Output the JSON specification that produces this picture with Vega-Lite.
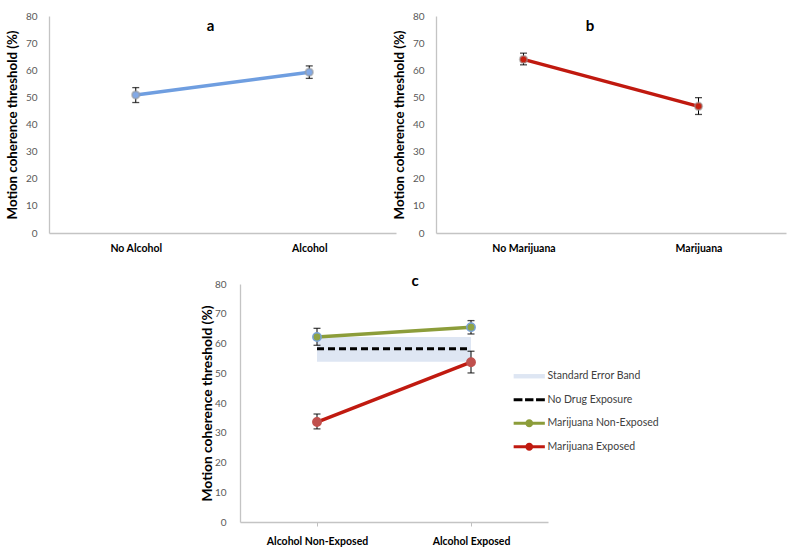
{
  "$schema": "https://vega.github.io/schema/vega-lite/v6.json",
  "autosize": {"type": "none"},
  "padding": {"left": 49, "top": 16, "right": 738, "bottom": 537},
  "background": "white",
  "bounds": "full",
  "spacing": 20,
  "datasets": {
    "alcohol": [
      {"condition": "No Alcohol", "mean": 50.9, "lo": 48.1, "hi": 53.6},
      {"condition": "Alcohol", "mean": 59.3, "lo": 57.0, "hi": 61.6}
    ],
    "marijuana": [
      {"condition": "No Marijuana", "mean": 64.0, "lo": 62.0, "hi": 66.3},
      {"condition": "Marijuana", "mean": 46.7, "lo": 43.7, "hi": 49.9}
    ],
    "combined": [
      {"condition": "Alcohol Non-Exposed", "series": "Standard Error Band", "mean": 58.2, "lo": 53.9, "hi": 62.2},
      {"condition": "Alcohol Exposed", "series": "Standard Error Band", "mean": 58.2, "lo": 53.9, "hi": 62.2},
      {"condition": "Alcohol Non-Exposed", "series": "No Drug Exposure", "mean": 58.2, "lo": null, "hi": null},
      {"condition": "Alcohol Exposed", "series": "No Drug Exposure", "mean": 58.2, "lo": null, "hi": null},
      {"condition": "Alcohol Non-Exposed", "series": "Marijuana Non-Exposed", "mean": 62.2, "lo": 59.4, "hi": 65.1},
      {"condition": "Alcohol Exposed", "series": "Marijuana Non-Exposed", "mean": 65.5, "lo": 63.2, "hi": 67.7},
      {"condition": "Alcohol Non-Exposed", "series": "Marijuana Exposed", "mean": 33.6, "lo": 31.3, "hi": 36.3},
      {"condition": "Alcohol Exposed", "series": "Marijuana Exposed", "mean": 53.7, "lo": 50.1, "hi": 57.4}
    ]
  },
  "vconcat": [
    {
      "bounds": "flush",
      "spacing": 40,
      "hconcat": [
        {
          "width": 347, "height": 217,
          "data": {"name": "alcohol"},
          "title": {"text": "a", "frame": "group", "offset": -35, "dx": -12, "fontSize": 15, "fontWeight": "bold", "baseline": "alphabetic"},
          "encoding": {
            "x": {"field": "condition", "type": "nominal", "sort": null, "scale": {"type": "point", "padding": 0.5}, "title": null, "axis": {"ticks": false}}
          },
          "layer": [
            {"mark": {"type": "line", "color": "#6f9ee0", "strokeWidth": 3.5},
             "encoding": {"y": {"field": "mean", "type": "quantitative", "scale": {"domain": [0, 80], "nice": false}, "title": "Motion coherence threshold (%)"}}},
            {"mark": {"type": "rule", "color": "#000000", "strokeWidth": 1},
             "encoding": {"y": {"field": "lo", "type": "quantitative", "scale": {"domain": [0, 80], "nice": false}, "title": "Motion coherence threshold (%)"}, "y2": {"field": "hi"}}},
            {"mark": {"type": "tick", "color": "#000000", "size": 7, "thickness": 1.3},
             "encoding": {"y": {"field": "lo", "type": "quantitative", "scale": {"domain": [0, 80], "nice": false}, "title": "Motion coherence threshold (%)"}}},
            {"mark": {"type": "tick", "color": "#000000", "size": 7, "thickness": 1.3},
             "encoding": {"y": {"field": "hi", "type": "quantitative", "scale": {"domain": [0, 80], "nice": false}, "title": "Motion coherence threshold (%)"}}},
            {"mark": {"type": "circle", "size": 55, "fill": "#82a9e6", "opacity": 1, "stroke": "#9a9a9a", "strokeWidth": 2, "strokeOpacity": 0.55},
             "encoding": {"y": {"field": "mean", "type": "quantitative", "scale": {"domain": [0, 80], "nice": false}, "title": "Motion coherence threshold (%)"}}}
          ]
        },
        {
          "width": 350, "height": 217,
          "data": {"name": "marijuana"},
          "title": {"text": "b", "frame": "group", "offset": -35, "dx": -21, "fontSize": 15, "fontWeight": "bold", "baseline": "alphabetic"},
          "encoding": {
            "x": {"field": "condition", "type": "nominal", "sort": null, "scale": {"type": "point", "padding": 0.5}, "title": null, "axis": {"ticks": false}}
          },
          "layer": [
            {"mark": {"type": "line", "color": "#c0190f", "strokeWidth": 3.5},
             "encoding": {"y": {"field": "mean", "type": "quantitative", "scale": {"domain": [0, 80], "nice": false}, "title": "Motion coherence threshold (%)"}}},
            {"mark": {"type": "rule", "color": "#000000", "strokeWidth": 1},
             "encoding": {"y": {"field": "lo", "type": "quantitative", "scale": {"domain": [0, 80], "nice": false}, "title": "Motion coherence threshold (%)"}, "y2": {"field": "hi"}}},
            {"mark": {"type": "tick", "color": "#000000", "size": 7, "thickness": 1.3},
             "encoding": {"y": {"field": "lo", "type": "quantitative", "scale": {"domain": [0, 80], "nice": false}, "title": "Motion coherence threshold (%)"}}},
            {"mark": {"type": "tick", "color": "#000000", "size": 7, "thickness": 1.3},
             "encoding": {"y": {"field": "hi", "type": "quantitative", "scale": {"domain": [0, 80], "nice": false}, "title": "Motion coherence threshold (%)"}}},
            {"mark": {"type": "circle", "size": 55, "fill": "#c8200f", "opacity": 1, "stroke": "#9a9a9a", "strokeWidth": 2, "strokeOpacity": 0.55},
             "encoding": {"y": {"field": "mean", "type": "quantitative", "scale": {"domain": [0, 80], "nice": false}, "title": "Motion coherence threshold (%)"}}}
          ]
        }
      ]
    },
    {
      "bounds": "flush",
      "spacing": 10,
      "hconcat": [
        {
          "width": 181, "height": 238,
          "data": {"values": [{}]},
          "mark": {"type": "text", "text": ""}
        },
        {
          "width": 308, "height": 238,
          "data": {"name": "combined"},
          "title": {"text": "c", "frame": "group", "offset": -22, "dx": 21, "fontSize": 15, "fontWeight": "bold", "baseline": "alphabetic"},
          "encoding": {
            "x": {"field": "condition", "type": "nominal", "sort": null, "scale": {"type": "point", "padding": 0.5}, "title": null, "axis": {"ticks": true, "tickColor": "#bfbfbf", "tickSize": 4}}
          },
          "layer": [
            {
              "transform": [{"filter": "datum.series === 'legend only'"}],
              "mark": {"type": "point", "filled": true, "opacity": 1},
              "encoding": {
                "y": {"field": "mean", "type": "quantitative", "scale": {"domain": [0, 80], "nice": false}, "title": "Motion coherence threshold (%)", "axis": {"titlePadding": 0, "labelPadding": 14, "titleFontSize": 13.8}},
                "color": {
                  "field": "series", "type": "nominal",
                  "scale": {"domain": ["Standard Error Band", "No Drug Exposure", "Marijuana Non-Exposed", "Marijuana Exposed"], "range": ["#dee6f3", "#000000", "#8c9d3a", "#c01a10"]},
                  "legend": {
                    "title": null, "orient": "none", "legendX": 475, "legendY": 355,
                    "symbolSize": 64, "symbolOpacity": 1, "symbolStrokeWidth": 0, "labelFontSize": 10.5, "labelColor": "#404040", "labelOffset": 13, "rowPadding": 12.5
                  }
                },
                "shape": {
                  "field": "series", "type": "nominal",
                  "scale": {
                    "domain": ["Standard Error Band", "No Drug Exposure", "Marijuana Non-Exposed", "Marijuana Exposed"],
                    "range": [
                      "M-3.9,-0.55H3.9V0.55H-3.9Z",
                      "M-3.9,-0.4H-1.7V0.4H-3.9Z M-1.05,-0.4H1.05V0.4H-1.05Z M1.7,-0.4H3.9V0.4H1.7Z",
                      "M-3.9,-0.4H3.9V0.4H-3.9Z M1,0A1,1 0 1,1 -1,0A1,1 0 1,1 1,0Z",
                      "M-3.9,-0.4H3.9V0.4H-3.9Z M1,0A1,1 0 1,1 -1,0A1,1 0 1,1 1,0Z"
                    ]
                  },
                  "legend": {
                    "title": null, "orient": "none", "legendX": 475, "legendY": 355,
                    "symbolSize": 64, "symbolOpacity": 1, "symbolStrokeWidth": 0, "labelFontSize": 10.5, "labelColor": "#404040", "labelOffset": 13, "rowPadding": 12.5
                  }
                }
              }
            },
            {
              "transform": [{"filter": "datum.series === 'Standard Error Band'"}],
              "mark": {"type": "area", "opacity": 1},
              "encoding": {
                "y": {"field": "lo", "type": "quantitative", "scale": {"domain": [0, 80], "nice": false}, "title": "Motion coherence threshold (%)"},
                "y2": {"field": "hi"},
                "color": {"field": "series", "type": "nominal", "legend": null}
              }
            },
            {
              "transform": [{"filter": "datum.series === 'No Drug Exposure'"}],
              "mark": {"type": "line", "strokeWidth": 3, "strokeDash": [7, 4]},
              "encoding": {
                "y": {"field": "mean", "type": "quantitative", "scale": {"domain": [0, 80], "nice": false}, "title": "Motion coherence threshold (%)"},
                "color": {"field": "series", "type": "nominal", "legend": null}
              }
            },
            {
              "transform": [{"filter": "datum.series === 'Marijuana Non-Exposed' || datum.series === 'Marijuana Exposed'"}],
              "mark": {"type": "line", "strokeWidth": 3.5},
              "encoding": {
                "y": {"field": "mean", "type": "quantitative", "scale": {"domain": [0, 80], "nice": false}, "title": "Motion coherence threshold (%)"},
                "color": {"field": "series", "type": "nominal", "legend": null}
              }
            },
            {
              "transform": [{"filter": "datum.series === 'Marijuana Non-Exposed' || datum.series === 'Marijuana Exposed'"}],
              "mark": {"type": "rule", "color": "#000000", "strokeWidth": 1},
              "encoding": {
                "y": {"field": "lo", "type": "quantitative", "scale": {"domain": [0, 80], "nice": false}, "title": "Motion coherence threshold (%)"},
                "y2": {"field": "hi"},
                "detail": {"field": "series"}
              }
            },
            {
              "transform": [{"filter": "datum.series === 'Marijuana Non-Exposed' || datum.series === 'Marijuana Exposed'"}],
              "mark": {"type": "tick", "color": "#000000", "size": 7, "thickness": 1.3},
              "encoding": {
                "y": {"field": "lo", "type": "quantitative", "scale": {"domain": [0, 80], "nice": false}, "title": "Motion coherence threshold (%)"},
                "detail": {"field": "series"}
              }
            },
            {
              "transform": [{"filter": "datum.series === 'Marijuana Non-Exposed' || datum.series === 'Marijuana Exposed'"}],
              "mark": {"type": "tick", "color": "#000000", "size": 7, "thickness": 1.3},
              "encoding": {
                "y": {"field": "hi", "type": "quantitative", "scale": {"domain": [0, 80], "nice": false}, "title": "Motion coherence threshold (%)"},
                "detail": {"field": "series"}
              }
            },
            {
              "transform": [{"filter": "datum.series === 'Marijuana Non-Exposed' || datum.series === 'Marijuana Exposed'"}],
              "mark": {"type": "circle", "size": 70, "opacity": 1, "strokeWidth": 1.5},
              "encoding": {
                "y": {"field": "mean", "type": "quantitative", "scale": {"domain": [0, 80], "nice": false}, "title": "Motion coherence threshold (%)"},
                "fill": {"field": "series", "type": "nominal", "scale": {"domain": ["Marijuana Non-Exposed", "Marijuana Exposed"], "range": ["#8fa346", "#c0504d"]}, "legend": null},
                "stroke": {"field": "series", "type": "nominal", "scale": {"domain": ["Marijuana Non-Exposed", "Marijuana Exposed"], "range": ["#79a2d8", "#c0504d"]}, "legend": null}
              }
            }
          ]
        }
      ]
    }
  ],
  "config": {
    "view": {"stroke": null},
    "font": "Lato",
    "axis": {"domainColor": "#c4c4c4", "domainWidth": 1.3, "grid": false},
    "axisY": {"ticks": false, "tickCount": 8, "labelColor": "#595959", "labelFontSize": 10, "labelPadding": 12, "titleFontSize": 13.3, "titleFontWeight": "bold", "titleColor": "#000000", "titlePadding": 6},
    "axisX": {"labelColor": "#000000", "labelFontWeight": "bold", "labelFontSize": 10.5, "labelPadding": 10, "labelAngle": 0},
    "title": {"color": "#000000"}
  }
}
